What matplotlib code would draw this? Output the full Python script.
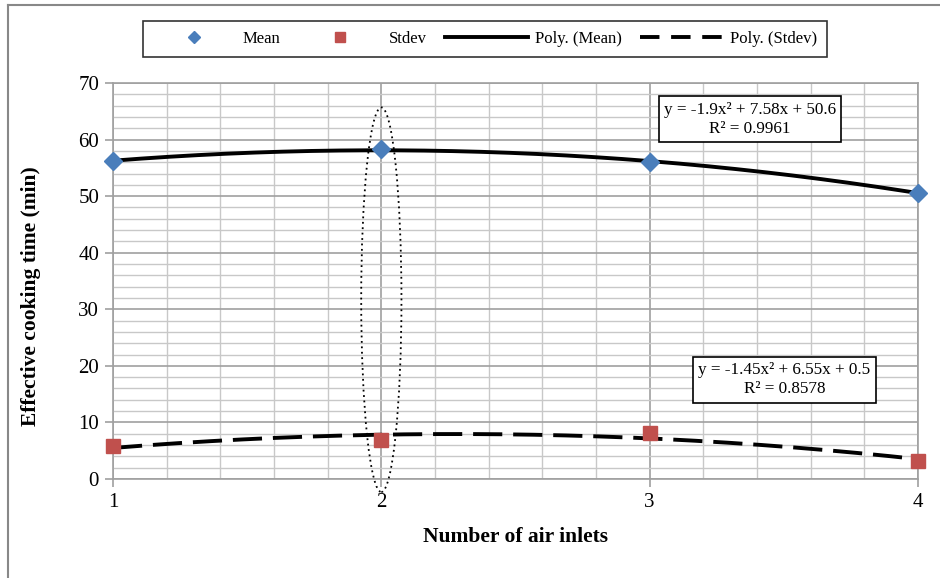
import numpy as np
import matplotlib
matplotlib.use('Agg')
import matplotlib.pyplot as plt
from matplotlib.patches import Ellipse
from matplotlib.lines import Line2D
from matplotlib.ticker import MultipleLocator

plt.rcParams['font.family'] = ['Liberation Serif', 'DejaVu Serif']

# data
inlets = [1, 2, 3, 4]
mean_time = [56.2, 58.3, 56.0, 50.6]
stdev_time = [5.8, 6.9, 8.1, 3.2]
mean_eq = 'y = -1.9x² + 7.58x + 50.6\nR² = 0.9961'
stdev_eq = 'y = -1.45x² + 6.55x + 0.5\nR² = 0.8578'

fig = plt.figure(figsize=(9.4, 5.78), dpi=100)
ax = fig.add_axes([0.1202, 0.1713, 0.8564, 0.6851])

# quadratic trendlines fitted to the points
xs = np.linspace(1, 4, 200)
pm = np.polyfit(inlets, mean_time, 2)
ps = np.polyfit(inlets, stdev_time, 2)
ax.plot(xs, np.polyval(pm, xs), color='black', lw=2.8, zorder=3)
ax.plot(xs, np.polyval(ps, xs), color='black', lw=2.8, ls=(0, (7.5, 2.8)), zorder=3)

ax.plot(inlets, mean_time, ls='none', marker='D', ms=9, color='#4a7ebb',
        clip_on=False, zorder=4)
ax.plot(inlets, stdev_time, ls='none', marker='s', ms=10, color='#c0504d',
        clip_on=False, zorder=4)

ax.set_xlim(1, 4)
ax.set_ylim(0, 70)
ax.xaxis.set_major_locator(MultipleLocator(1))
ax.xaxis.set_minor_locator(MultipleLocator(0.2))
ax.yaxis.set_major_locator(MultipleLocator(10))
ax.yaxis.set_minor_locator(MultipleLocator(2))
ax.grid(which='major', color='#a0a0a0', lw=1.2)
ax.grid(which='minor', color='#c8c8c8', lw=1.0)
ax.set_axisbelow(True)
for s in ax.spines.values():
    s.set_color('#a0a0a0')
    s.set_linewidth(1.2)
ax.tick_params(which='major', length=6, width=1.2, color='#a0a0a0',
               labelsize=15, pad=4)
ax.tick_params(which='minor', length=0)

ax.set_xlabel('Number of air inlets', fontsize=15.5, fontweight='bold')
ax.set_ylabel('Effective cooking time (min)', fontsize=15.5, fontweight='bold')
ax.xaxis.set_label_coords(0.5, -0.146)
ax.yaxis.set_label_coords(-0.102, 0.462)
ax.xaxis.label.set_va('center')
ax.yaxis.label.set_va('center')

# dotted ellipse around x = 2
ell = Ellipse((2, 31.7), 0.15, 68, fill=False, ls=(0, (1, 2)), lw=1.3,
              color='black', clip_on=False, zorder=5)
ax.add_patch(ell)

# trendline equations
box = dict(boxstyle='square,pad=0.3', fc='white', ec='black', lw=1.2)
ax.text(0.791, 0.909, mean_eq, transform=ax.transAxes,
        ha='center', va='center', fontsize=12.3, bbox=box, linespacing=1.25, zorder=6)
ax.text(0.834, 0.25, stdev_eq, transform=ax.transAxes,
        ha='center', va='center', fontsize=12.3, bbox=box, linespacing=1.25, zorder=6)

handles = [
    Line2D([], [], ls='none', marker='D', ms=6, color='#4a7ebb'),
    Line2D([], [], ls='none', marker='s', ms=7, color='#c0504d'),
    Line2D([], [], color='black', lw=2.8),
    Line2D([], [], color='black', lw=2.8, ls=(0, (5, 3))),
]
labels = ['Mean', 'Stdev', 'Poly. (Mean)', 'Poly. (Stdev)']
leg = fig.legend(handles, labels, loc='center', bbox_to_anchor=(0.516, 0.933),
                 ncol=4, fontsize=12, frameon=True, fancybox=False,
                 handlelength=5.0, columnspacing=1.1, handletextpad=0.4,
                 borderpad=0.6)
leg.get_frame().set_edgecolor('black')
leg.get_frame().set_linewidth(1.2)

# chart-area border (left and top edges visible)
fig.add_artist(Line2D([8 / 940, 8 / 940], [0, 1 - 5 / 578], transform=fig.transFigure,
                      color='#888888', lw=1.5))
fig.add_artist(Line2D([8 / 940, 1], [1 - 5 / 578, 1 - 5 / 578], transform=fig.transFigure,
                      color='#888888', lw=1.5))

plt.savefig('out.png', dpi=100)
plt.close()
